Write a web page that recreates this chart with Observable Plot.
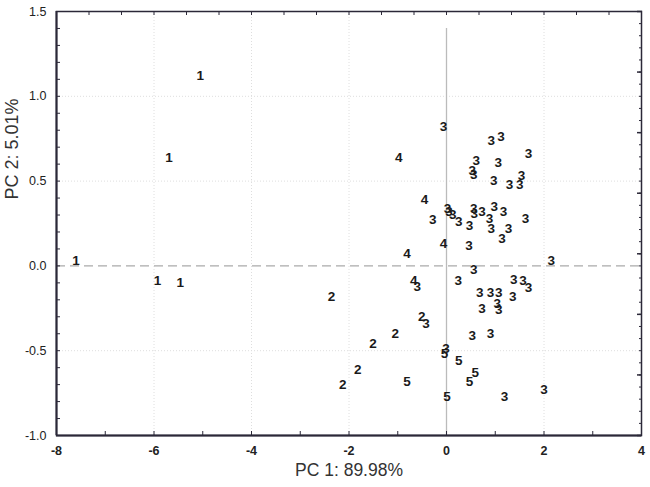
<!DOCTYPE html>
<html><head><meta charset="utf-8">
<script src="https://cdn.jsdelivr.net/npm/d3@7"></script>
<script src="https://cdn.jsdelivr.net/npm/@observablehq/plot@0.6"></script>
<style>body{margin:0;background:#fff}</style>
</head><body><div id="chart"></div>
<script>
// Scores per group (PC1, PC2)
const g1x = [-5.05, -5.69, -7.60, -5.93, -5.46];
const g1y = [ 1.12,  0.64,  0.03, -0.09, -0.10];
const g2x = [-2.36, -0.51, -1.05, -1.51, -1.82, -2.13];
const g2y = [-0.18, -0.30, -0.40, -0.46, -0.61, -0.70];
const g3x = [-0.06, 0.92, 1.12, 1.68, 0.61, 1.06, 0.53, 0.56, 0.97, 1.29, 1.54, 1.50,
             0.02, 0.05, 0.13, -0.28, 0.25, 0.47, 0.56, 0.57, 0.73, 0.88, 0.98, 1.17, 1.62, 0.92, 1.27, 1.14, 0.46,
             2.15, 0.56, 0.24, 1.38, 1.57, 1.68, 0.68, 0.90, 1.07, 1.36, 0.73, 1.04, 1.07, -0.42, 0.53, 0.90, 1.19, 2.00, -0.60, -0.01];
const g3y = [ 0.82, 0.74, 0.76, 0.66, 0.62, 0.61, 0.56, 0.54, 0.50, 0.48, 0.53, 0.48,
             0.34, 0.32, 0.30, 0.27, 0.26, 0.24, 0.34, 0.31, 0.32, 0.28, 0.35, 0.32, 0.28, 0.22, 0.22, 0.16, 0.12,
             0.03, -0.02, -0.09, -0.08, -0.09, -0.13, -0.16, -0.16, -0.16, -0.18, -0.25, -0.22, -0.26, -0.34, -0.41, -0.40, -0.77, -0.73, -0.12, -0.49];
const g4x = [-0.98, -0.45, -0.06, -0.81, -0.67];
const g4y = [ 0.64,  0.39,  0.13,  0.07, -0.09];
const g5x = [-0.04, 0.25, 0.59, 0.47, -0.81, 0.01];
const g5y = [-0.52, -0.56, -0.63, -0.68, -0.68, -0.77];

const groupNames = ["1", "2", "3", "4", "5"];
const groupX = [g1x, g2x, g3x, g4x, g5x];
const groupY = [g1y, g2y, g3y, g4y, g5y];

const xTitle = "PC 1: 89.98%";
const yTitle = "PC 2: 5.01%";
const xDomain = [-8, 4];
const yDomain = [-1, 1.5];
const xMajorTicks = [-8, -6, -4, -2, 0, 2, 4];
const xMinorTicks = [-8, -7, -6, -5, -4, -3, -2, -1, 0, 1, 2, 3, 4];
const yMajorTicks = [-1.0, -0.5, 0.0, 0.5, 1.0, 1.5];
const yMinorTicks = d3.range(0, 26).map(i => -1 + i * 0.1);
const topTicks = d3.range(0, 19).map(i => -8 + i * 2 / 3);
const rightTicks = d3.range(0, 36).map(i => -1 + i * 2.5 / 35);
const rightMajor = d3.range(0, 8).map(i => -1 + i * 2.5 / 7);
const xGrid = [-6, -4, -2, 2];
const yGrid = [-0.5, 0.5, 1.0];
const vLineY = [-1, 1.4];

const points = [];
groupNames.forEach((g, k) => groupX[k].forEach((x, i) => points.push({x, y: groupY[k][i], g})));

const chart = Plot.plot({
  width: 650, height: 487,
  marginLeft: 56, marginRight: 9, marginTop: 11, marginBottom: 52,
  style: {fontFamily: "'Liberation Sans', Arial, sans-serif", background: "#fff", overflow: "visible"},
  x: {domain: xDomain},
  y: {domain: yDomain},
  marks: [
    Plot.gridX(xGrid, {stroke: "#dedede", strokeOpacity: 1, strokeDasharray: "1,2"}),
    Plot.gridY(yGrid, {stroke: "#dedede", strokeOpacity: 1, strokeDasharray: "1,2"}),
    Plot.ruleY([0], {stroke: "#aaa", strokeWidth: 1.3, strokeDasharray: "9,5"}),
    Plot.ruleX([0], {y1: vLineY[0], y2: vLineY[1], stroke: "#bbb", strokeWidth: 1.3}),
    Plot.axisX(xMinorTicks, {anchor: "bottom", tickSize: -4, tickFormat: () => "", label: null, stroke: "#2b2838"}),
    Plot.axisX(xMajorTicks, {anchor: "bottom", tickSize: 0, tickPadding: 11, tickFormat: d => String(d), label: null, fontSize: 12.5, fontWeight: "bold", fill: "#222"}),
    Plot.axisY(yMinorTicks, {anchor: "left", tickSize: -4, tickFormat: () => "", label: null, stroke: "#2b2838"}),
    Plot.axisY(yMajorTicks, {anchor: "left", tickSize: 0, tickPadding: 10, tickFormat: d => d.toFixed(1), label: null, fontSize: 12.5, fill: "#222"}),
    Plot.axisX(topTicks, {anchor: "top", tickSize: -3, tickFormat: () => "", label: null, stroke: "#2b2838"}),
    Plot.axisY(rightTicks, {anchor: "right", tickSize: -3, tickFormat: () => "", label: null, stroke: "#2b2838"}),
    Plot.axisY(rightMajor, {anchor: "right", tickSize: -5, tickFormat: () => "", label: null, stroke: "#2b2838", strokeWidth: 1.5}),
    Plot.frame({stroke: "#2b2838", strokeWidth: 1.5}),
    Plot.ruleX([xDomain[0]], {stroke: "#2b2838", strokeWidth: 2}),
    Plot.ruleY([yDomain[0]], {stroke: "#2b2838", strokeWidth: 2}),
    Plot.text(points, {x: "x", y: "y", text: "g", fontSize: 13.5, fontWeight: "bold", fill: "#1a1a1a"}),
    Plot.text([xTitle], {frameAnchor: "bottom", dy: 35, lineAnchor: "middle", fontSize: 17.5, fill: "#333", ariaLabel: "x-title"}),
    Plot.text([yTitle], {frameAnchor: "left", rotate: -90, dx: -44.5, dy: -24, lineAnchor: "middle", fontSize: 18, fill: "#333"})
  ]
});
d3.select(chart).select('g[aria-label="x-title"] text')
  .attr("textLength", 135).attr("lengthAdjust", "spacingAndGlyphs");
document.getElementById("chart").appendChild(chart);
</script>
</body></html>
